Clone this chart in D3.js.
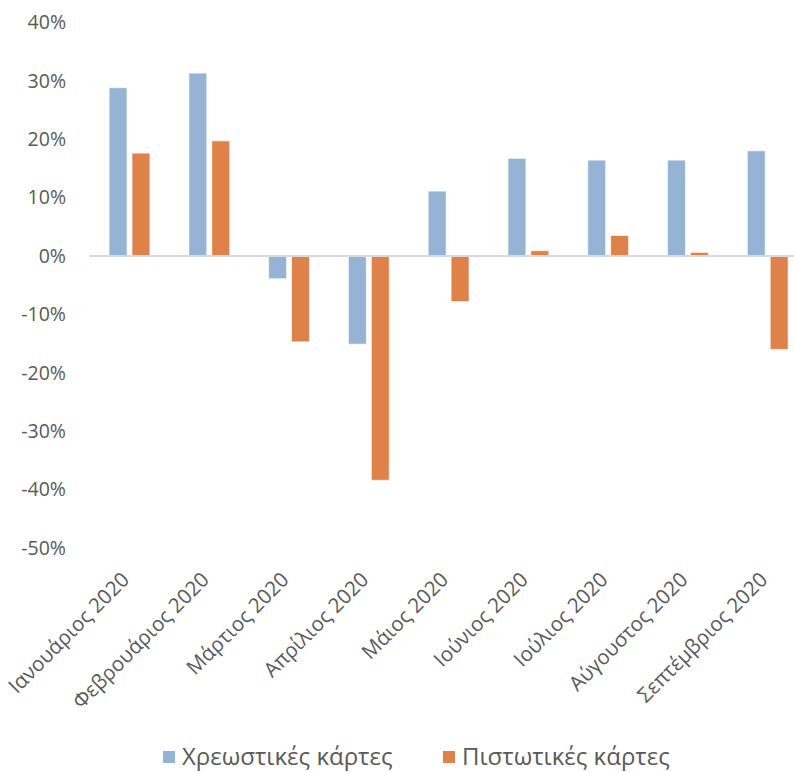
<!DOCTYPE html>
<html><head><meta charset="utf-8">
<script src="https://cdn.jsdelivr.net/npm/d3@7"></script>
<style>body{margin:0;background:#fff}svg{display:block}</style>
</head><body>
<script>
const months = ["Ιανουάριος 2020","Φεβρουάριος 2020","Μάρτιος 2020","Απρίλιος 2020","Μάιος 2020","Ιούνιος 2020","Ιούλιος 2020","Αύγουστος 2020","Σεπτέμβριος 2020"];
const seriesNames = ["Χρεωστικές κάρτες","Πιστωτικές κάρτες"];
const debit = [28.8, 31.3, -3.9, -15.1, 11.1, 16.7, 16.4, 16.4, 18.0];
const credit = [17.6, 19.7, -14.7, -38.4, -7.8, 0.9, 3.5, 0.6, -16.0];
const yTicks = [-50,-40,-30,-20,-10,0,10,20,30,40];
const colors = ["#95B3D4","#DF8249"];

const W=794,H=772;
const svg=d3.select("body").append("svg").attr("width",W).attr("height",H);
const font="'Open Sans', sans-serif";
const x0=d3.scaleBand().domain(months).range([89.6,807.6]).padding(0);
const x1=d3.scaleBand().domain(seriesNames).range([19.5,60.3]).paddingInner(0.22);
const y=d3.scaleLinear().domain([-50,40]).range([548,22.3]);

// y labels
svg.append("g").selectAll("text").data(yTicks).join("text")
  .attr("x",66).attr("y",d=>y(d)).attr("dy","0.35em").attr("text-anchor","end")
  .attr("font-family",font).attr("font-size",19.5).attr("fill","#595959")
  .text(d=>(d<0?"-":"")+Math.abs(d)+"%");

const data=months.map((m,i)=>({m,vals:[debit[i],credit[i]]}));
const g=svg.append("g");
g.selectAll("g").data(data).join("g").attr("transform",d=>`translate(${x0(d.m)},0)`)
 .selectAll("rect").data(d=>d.vals.map((v,j)=>({v,j}))).join("rect")
 .attr("x",d=>x1(seriesNames[d.j])).attr("width",x1.bandwidth())
 .attr("y",d=>y(Math.max(0,d.v))).attr("height",d=>Math.abs(y(d.v)-y(0)))
 .attr("fill",d=>colors[d.j]).attr("stroke","#fff").attr("stroke-opacity",0.6).attr("stroke-width",1);

// zero line
svg.append("line").attr("x1",89.3).attr("x2",W).attr("y1",y(0)).attr("y2",y(0))
  .attr("stroke","#D9D9D9").attr("stroke-width",2);

// x labels
svg.append("g").selectAll("text").data(months).join("text")
  .attr("transform",d=>`translate(${x0(d)+x0.bandwidth()/2+1},${581}) rotate(-45)`)
  .attr("text-anchor","end").attr("font-family",font).attr("font-size",20.5).attr("fill","#595959")
  .text(d=>d);

// legend
const legX=[163,443];
const lg=svg.append("g");
seriesNames.forEach((s,i)=>{
  lg.append("rect").attr("x",legX[i]).attr("y",751).attr("width",12).attr("height",12).attr("fill",colors[i]);
  lg.append("text").attr("x",legX[i]+19).attr("y",757).attr("dy","0.35em")
    .attr("font-family",font).attr("font-size",24).attr("fill","#595959").text(s);
});
</script>
</body></html>
